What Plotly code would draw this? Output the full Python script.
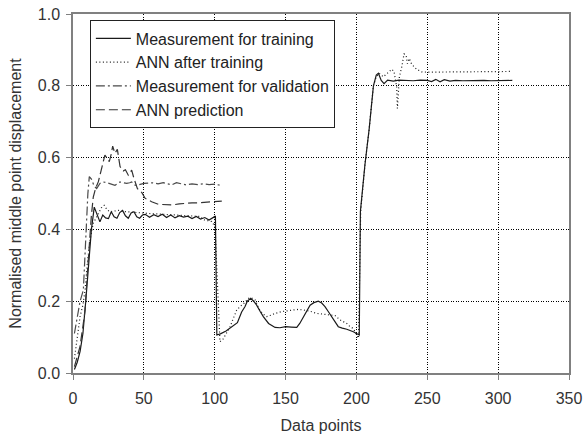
import plotly.graph_objects as go

# Measurement for training (solid)
train_x = [1, 3, 5, 7, 9, 11, 13, 15, 17, 19, 21, 23, 25, 27, 29, 31, 33, 35, 37, 39, 41, 43,
           45, 47, 49, 51, 54, 57, 60, 63, 66, 69, 72, 75, 78, 81, 84, 87, 90, 93, 96, 98, 100.5,
           101.5, 104, 108, 112, 116, 119, 121.4, 123, 125.4, 127.5, 129.6, 132, 134.3, 138, 142.6,
           146, 150, 154, 157.9, 160, 162.5, 165, 167.3, 170, 173.1, 175.5, 177.8, 180, 182.6, 185,
           187.2, 190, 193.2, 197.8, 200.7, 202, 202.8, 206, 209, 212, 214, 215.5, 217.5, 219.5,
           222, 226, 230, 235, 240, 245, 250, 253, 256, 259, 262, 266, 270, 275, 280, 285, 290,
           295, 300, 305, 310]
train_y = [0.01, 0.03, 0.06, 0.11, 0.2, 0.3, 0.4, 0.462, 0.44, 0.421, 0.44, 0.432, 0.43, 0.449,
           0.435, 0.431, 0.447, 0.453, 0.438, 0.431, 0.446, 0.449, 0.435, 0.431, 0.44, 0.442, 0.434,
           0.441, 0.436, 0.442, 0.433, 0.44, 0.432, 0.438, 0.434, 0.437, 0.43, 0.436, 0.429, 0.433,
           0.426, 0.432, 0.437,
           0.106, 0.109, 0.117, 0.128, 0.14, 0.17, 0.185, 0.2, 0.208, 0.2, 0.189, 0.172, 0.157,
           0.138, 0.127, 0.126, 0.129, 0.128, 0.127, 0.138, 0.157, 0.172, 0.189, 0.196, 0.2, 0.195,
           0.185, 0.172, 0.157, 0.14, 0.129, 0.125, 0.122, 0.115, 0.109, 0.106, 0.45, 0.58, 0.68,
           0.8, 0.83, 0.835, 0.815, 0.806, 0.816, 0.813, 0.816, 0.815, 0.814, 0.816, 0.815, 0.812,
           0.818, 0.811, 0.817, 0.813, 0.815, 0.814, 0.815, 0.814, 0.815, 0.814, 0.815, 0.815, 0.815]

# ANN after training (dotted)
ann_x = [1, 3, 5, 7, 8.5, 10, 12, 14.3, 16, 17.9, 20, 22, 24, 26, 29, 32, 35, 38, 42, 46, 50, 55,
         60, 65, 70, 75, 80, 85, 89.6, 92, 95, 97.9, 100.2, 101.5, 103.7, 106, 108.4, 111, 113.1,
         115.5, 117.9, 120.8, 123.7, 126, 128.4, 131.8, 134, 136.7, 139, 142.6, 147.3, 153.1, 158,
         162, 167.3, 172, 177, 181.4, 184.9, 188.4, 193.2, 195.5, 197.8, 200.2, 201.5, 203, 206,
         209, 212, 214, 216, 219, 222.5, 224.9, 226.5, 228.4, 228.9, 230.3, 232, 233.6, 235, 236,
         237.3, 239, 242.5, 246, 250, 260, 270, 280, 290, 300, 310]
ann_y = [0.04, 0.1, 0.157, 0.19, 0.23, 0.3, 0.37, 0.417, 0.43, 0.445, 0.46, 0.467, 0.455, 0.449,
         0.45, 0.453, 0.45, 0.449, 0.447, 0.445, 0.444, 0.444, 0.443, 0.442, 0.442, 0.441, 0.44,
         0.438, 0.436, 0.427, 0.424, 0.422, 0.408, 0.3, 0.087, 0.095, 0.11, 0.13, 0.152, 0.175,
         0.185, 0.195, 0.208, 0.209, 0.204, 0.175, 0.165, 0.157, 0.16, 0.166, 0.171, 0.175, 0.177,
         0.176, 0.172, 0.166, 0.163, 0.162, 0.16, 0.148, 0.138, 0.129, 0.124, 0.106, 0.097, 0.45,
         0.58, 0.68, 0.8, 0.825, 0.835, 0.825, 0.839, 0.846, 0.84, 0.797, 0.737, 0.825, 0.853,
         0.889, 0.886, 0.862, 0.876, 0.86, 0.846, 0.839, 0.838, 0.838, 0.839, 0.839, 0.84, 0.84,
         0.84]

# Measurement for validation (dash-dot)
val_x = [1, 3, 5, 7.3, 9, 10.5, 11.5, 13, 15, 16.7, 19, 21.4, 24, 26, 28, 29.6, 31.5, 33.2, 35.5,
         37.9, 40, 41.4, 43.8, 46, 50, 53, 56, 60, 63.7, 67, 69.6, 73, 76, 80, 84, 88, 92, 96, 100,
         103.7]
val_y = [0.11, 0.16, 0.2, 0.231, 0.38, 0.5, 0.547, 0.54, 0.52, 0.514, 0.528, 0.532, 0.53, 0.528,
         0.524, 0.523, 0.528, 0.532, 0.53, 0.528, 0.53, 0.532, 0.523, 0.524, 0.528, 0.528, 0.53,
         0.527, 0.53, 0.527, 0.524, 0.53, 0.528, 0.524, 0.527, 0.525, 0.527, 0.525, 0.526, 0.523]

# ANN prediction (dashed)
pred_x = [1, 3, 4.9, 7, 8.5, 10, 11.5, 13, 14.3, 16, 17.9, 19.5, 21.4, 22.5, 23.8, 25.6, 27, 28,
          29.6, 31.3, 32.2, 33.2, 35.5, 37, 39, 41.4, 43, 45.4, 47, 48.5, 50.8, 55.5, 60.2, 65,
          69.6, 75, 79, 84, 88.4, 94, 100.2, 105]
pred_y = [0.018, 0.045, 0.073, 0.13, 0.175, 0.27, 0.37, 0.44, 0.49, 0.515, 0.533, 0.56, 0.593,
          0.607, 0.6, 0.589, 0.61, 0.632, 0.612, 0.623, 0.6, 0.575, 0.563, 0.566, 0.551, 0.565,
          0.542, 0.514, 0.507, 0.503, 0.487, 0.477, 0.47, 0.468, 0.468, 0.471, 0.473, 0.474,
          0.474, 0.476, 0.477, 0.479]

x_ticks = [0, 50, 100, 150, 200, 250, 300, 350]
y_ticks = [0.0, 0.2, 0.4, 0.6, 0.8, 1.0]

FONT = "Liberation Sans, Arial, sans-serif"

fig = go.Figure()
fig.add_trace(go.Scatter(x=train_x, y=train_y, mode="lines", name="Measurement for training",
                         line=dict(color="#1a1a1a", width=1.2, dash="solid")))
fig.add_trace(go.Scatter(x=ann_x, y=ann_y, mode="lines", name="ANN after training",
                         line=dict(color="#1a1a1a", width=1.2, dash="1px,2.5px")))
fig.add_trace(go.Scatter(x=val_x, y=val_y, mode="lines", name="Measurement for validation",
                         line=dict(color="#4a4a4a", width=1.2, dash="9px,3px,2px,3px")))
fig.add_trace(go.Scatter(x=pred_x, y=pred_y, mode="lines", name="ANN prediction",
                         line=dict(color="#333333", width=1.2, dash="9px,4px")))

axis_common = dict(
    showline=True, linecolor="#808080", linewidth=1.5, mirror=True,
    showgrid=True, gridcolor="#000000", gridwidth=1, griddash="1px,1.5px",
    ticks="outside", ticklen=5, tickcolor="#808080", tickwidth=1.2,
    zeroline=False, automargin=False, ticklabeloverflow="allow",
    tickfont=dict(family=FONT, size=16, color="#333333"),
)

fig.update_layout(
    width=583, height=434,
    margin=dict(l=73, r=14, t=14, b=61),
    plot_bgcolor="white", paper_bgcolor="white",
    font=dict(family=FONT, size=16, color="#333333"),
    showlegend=True,
    legend=dict(x=0.034, y=0.982, xanchor="left", yanchor="top",
                bgcolor="white", bordercolor="#222222", borderwidth=1,
                font=dict(family=FONT, size=16, color="#222222"),
                itemwidth=35, tracegroupgap=0),
    xaxis=dict(range=[0, 350], tickvals=x_ticks, ticktext=[str(v) for v in x_ticks],
               ticklabelstandoff=5,
               title=dict(text="Data points", standoff=14,
                          font=dict(family=FONT, size=16, color="#333333")),
               **axis_common),
    yaxis=dict(range=[0, 1.0], tickvals=y_ticks, ticktext=[f"{v:.1f}" for v in y_ticks],
               ticklabelstandoff=3,
               title=dict(text="Normalised middle point displacement", standoff=12,
                          font=dict(family=FONT, size=16, color="#333333")),
               **axis_common),
)

# remove the browser's default 8px page margin so the figure sits at the window origin
fig.write_html("out.html", config={"displayModeBar": False},
               post_script="document.body.style.margin='0px';")
